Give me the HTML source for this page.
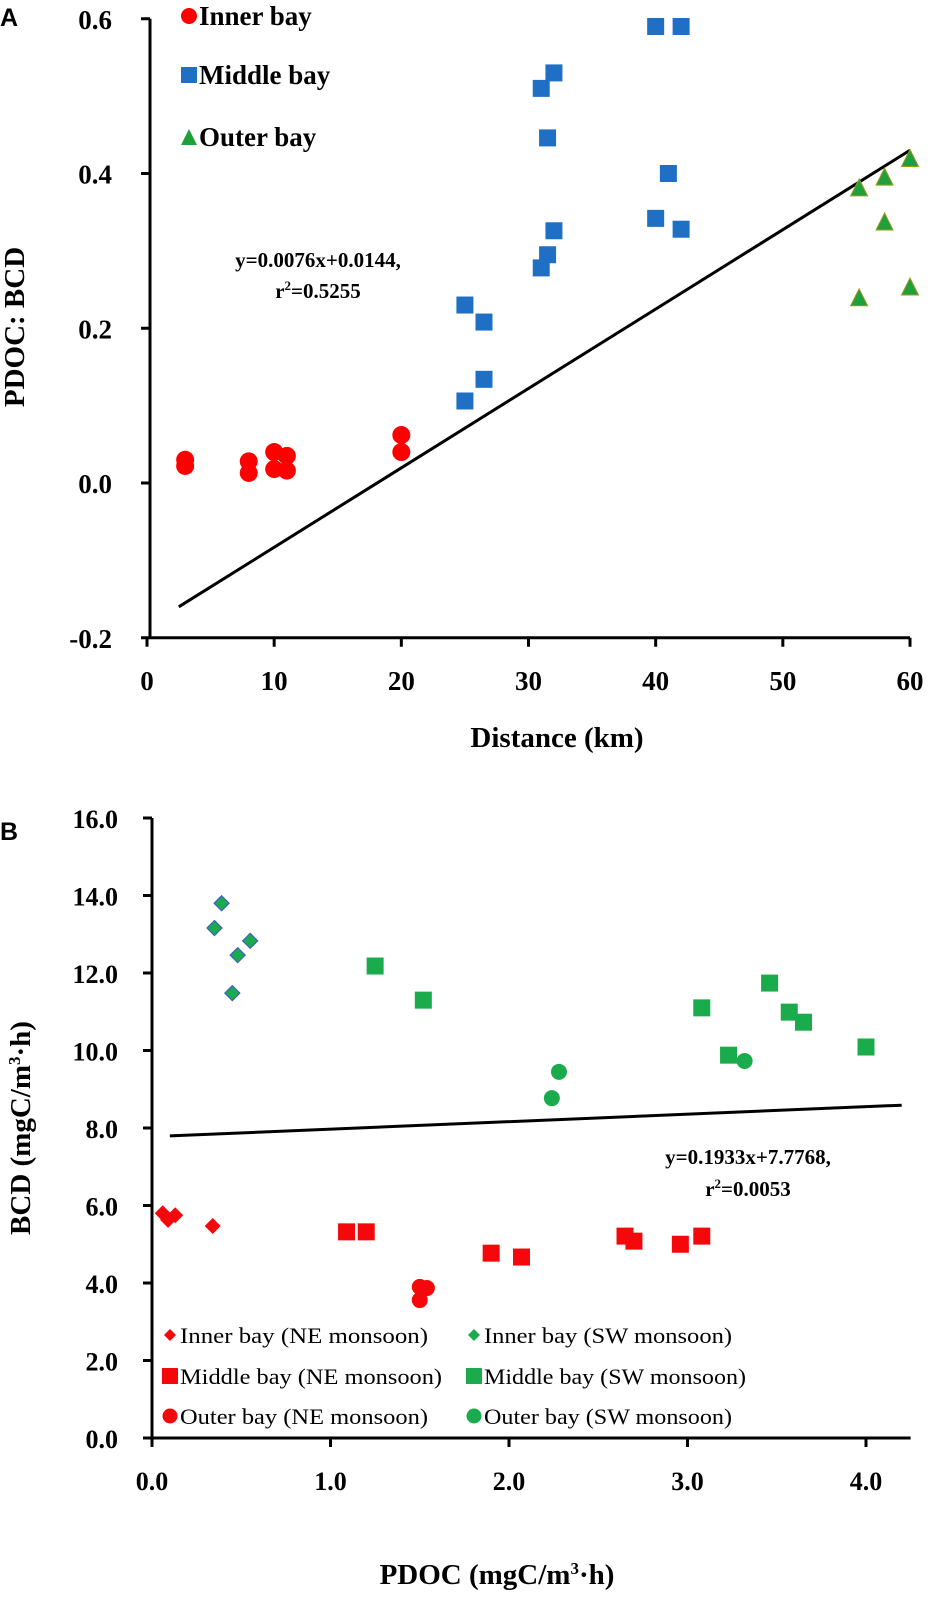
<!DOCTYPE html>
<html><head><meta charset="utf-8"><style>
body{margin:0;background:#fff}
svg{display:block;font-family:"Liberation Serif",serif}
</style></head><body>
<svg id="s" width="950" height="1604" viewBox="0 0 950 1604">
<text x="0" y="26" font-family="Liberation Sans,sans-serif" font-weight="bold" font-size="25">A</text>
<text x="0" y="840" font-family="Liberation Sans,sans-serif" font-weight="bold" font-size="25">B</text>
<g id="ga"></g>
<g id="gb"></g>
</svg>
<script>
// Panel A data
const aInnerX=[3,3,8,8,10,10,11,11,20,20];
const aInnerY=[0.030,0.022,0.028,0.013,0.040,0.018,0.035,0.016,0.062,0.040];
const aMidX=[25,26.5,26.5,25,31,32,31.5,32,31.5,31,40,42,41,40,42];
const aMidY=[0.230,0.208,0.134,0.106,0.510,0.530,0.446,0.326,0.295,0.278,0.590,0.590,0.400,0.342,0.328];
const aOutX=[56,58,60,58,56,60];
const aOutY=[0.382,0.396,0.420,0.338,0.240,0.254];
const aLineX=[2.5,60];
const aLineY=[-0.16,0.43];
const aXTicks=[0,10,20,30,40,50,60];
const aYTicks=[-0.2,0.0,0.2,0.4,0.6];
// Panel B data
const bInNEX=[0.06,0.09,0.13,0.34];
const bInNEY=[5.80,5.63,5.75,5.47];
const bInSWX=[0.35,0.39,0.48,0.55,0.45];
const bInSWY=[13.16,13.80,12.46,12.83,11.48];
const bMidNEX=[1.09,1.20,1.90,2.07,2.65,2.70,2.96,3.08];
const bMidNEY=[5.32,5.32,4.77,4.67,5.21,5.08,5.00,5.21];
const bOutNEX=[1.50,1.50,1.54];
const bOutNEY=[3.56,3.90,3.87];
const bMidSWX=[1.25,1.52,3.08,3.46,3.57,3.65,3.23,4.00];
const bMidSWY=[12.18,11.30,11.10,11.74,10.99,10.73,9.88,10.09];
const bOutSWX=[2.24,2.28,3.32];
const bOutSWY=[8.77,9.45,9.73];
const bSlope=0.1933, bIntercept=7.7768;
const bLineX=[0.1,4.2];
const bXTicks=[0,1,2,3,4];
const bYTicks=[0,2,4,6,8,10,12,14,16];

const NS="http://www.w3.org/2000/svg";
function mk(p,tag,at,txt){const e=document.createElementNS(NS,tag);for(const k in at)e.setAttribute(k,at[k]);if(txt!==undefined)e.textContent=txt;p.appendChild(e);return e;}
function marker(g,shape,cx,cy,sz,fill,stroke){
 let e;
 if(shape==='circle')e=mk(g,'circle',{cx:cx,cy:cy,r:sz/2,fill:fill});
 else if(shape==='square')e=mk(g,'rect',{x:cx-sz/2,y:cy-sz/2,width:sz,height:sz,fill:fill});
 else if(shape==='tri')e=mk(g,'polygon',{points:`${cx},${cy-sz/2} ${cx+sz/2},${cy+sz/2} ${cx-sz/2},${cy+sz/2}`,fill:fill,stroke:stroke||'none','stroke-width':1});
 else e=mk(g,'polygon',{points:`${cx},${cy-sz/2} ${cx+sz/2},${cy} ${cx},${cy+sz/2} ${cx-sz/2},${cy}`,fill:fill,stroke:stroke||'none','stroke-width':1.2});
 return e;
}
// ---- Panel A
const ga=document.getElementById('ga');
const ax=v=>147+(v-0)*(910-147)/60;
const ay=v=>483-v*773.75;
let e=mk(ga,'line',{x1:150,y1:ay(0.6),x2:150,y2:ay(-0.2),stroke:'#000','stroke-width':3});

e=mk(ga,'line',{x1:150,y1:ay(-0.2),x2:ax(60),y2:ay(-0.2),stroke:'#000','stroke-width':3});

aYTicks.forEach(v=>{mk(ga,'line',{x1:141,y1:ay(v),x2:150,y2:ay(v),stroke:'#000','stroke-width':3});
 const t=mk(ga,'text',{x:112,y:ay(v)+10,'text-anchor':'end','font-size':27,'font-weight':'bold'},v.toFixed(1));
 });
aXTicks.forEach(v=>{mk(ga,'line',{x1:ax(v),y1:ay(-0.2),x2:ax(v),y2:ay(-0.2)+9,stroke:'#000','stroke-width':3});
 const t=mk(ga,'text',{x:ax(v),y:690,'text-anchor':'middle','font-size':27,'font-weight':'bold'},String(v));
 });
e=mk(ga,'text',{x:557,y:747,'text-anchor':'middle','font-size':29,'font-weight':'bold'},'Distance (km)');

e=mk(ga,'text',{x:0,y:0,'text-anchor':'middle','font-size':29,'font-weight':'bold',transform:'translate(24,327) rotate(-90)'},'PDOC: BCD');

e=mk(ga,'line',{x1:ax(aLineX[0]),y1:ay(aLineY[0]),x2:ax(aLineX[1]),y2:ay(aLineY[1]),stroke:'#000','stroke-width':3});

e=mk(ga,'text',{x:318,y:267,'text-anchor':'middle','font-size':21,'font-weight':'bold'},'y=0.0076x+0.0144,');

e=mk(ga,'text',{x:318,y:298,'text-anchor':'middle','font-size':21,'font-weight':'bold'});
e.innerHTML='r<tspan dy="-8" font-size="13">2</tspan><tspan dy="8">=0.5255</tspan>';

aInnerX.forEach((x,i)=>{const m=marker(ga,'circle',ax(x),ay(aInnerY[i]),18,'#f00');});
aMidX.forEach((x,i)=>{const m=marker(ga,'square',ax(x),ay(aMidY[i]),17,'#1f6fc5');});
aOutX.forEach((x,i)=>{const m=marker(ga,'tri',ax(x),ay(aOutY[i]),17,'#1fa03a','#9a9a20');});
[['circle','#f00','Inner bay',16],['square','#1f6fc5','Middle bay',75],['tri','#1fa03a','Outer bay',137]].forEach(([s,c,l,y])=>{
 const g=mk(ga,'g',{});
 marker(g,s,189,y,16,c);mk(g,'text',{x:199,y:y+9,'font-size':27,'font-weight':'bold'},l);});
// ---- Panel B
const gb=document.getElementById('gb');
const bx=v=>152+v*178.5;
const by=v=>1438-v*38.75;
e=mk(gb,'line',{x1:152,y1:by(16),x2:152,y2:by(0),stroke:'#000','stroke-width':3});

e=mk(gb,'line',{x1:152,y1:by(0),x2:bx(4.25),y2:by(0),stroke:'#000','stroke-width':3});

bYTicks.forEach(v=>{mk(gb,'line',{x1:143,y1:by(v),x2:152,y2:by(v),stroke:'#000','stroke-width':3});
 const t=mk(gb,'text',{x:118,y:by(v)+10,'text-anchor':'end','font-size':26,'font-weight':'bold'},v.toFixed(1));
 });
bXTicks.forEach(v=>{mk(gb,'line',{x1:bx(v),y1:by(0),x2:bx(v),y2:by(0)+9,stroke:'#000','stroke-width':3});
 const t=mk(gb,'text',{x:bx(v),y:1490,'text-anchor':'middle','font-size':26,'font-weight':'bold'},v.toFixed(1));
 });
e=mk(gb,'text',{x:497,y:1584,'text-anchor':'middle','font-size':29,'font-weight':'bold'});
e.innerHTML='PDOC (mgC/m<tspan dy="-10" font-size="17">3</tspan><tspan dy="10">·h)</tspan>';

e=mk(gb,'text',{x:0,y:0,'text-anchor':'middle','font-size':29,'font-weight':'bold',transform:'translate(30,1128) rotate(-90)'});
e.innerHTML='BCD (mgC/m<tspan dy="-10" font-size="17">3</tspan><tspan dy="10">·h)</tspan>';

e=mk(gb,'line',{x1:bx(bLineX[0]),y1:by(bSlope*bLineX[0]+bIntercept),x2:bx(bLineX[1]),y2:by(bSlope*bLineX[1]+bIntercept),stroke:'#000','stroke-width':3});

e=mk(gb,'text',{x:748,y:1164,'text-anchor':'middle','font-size':21,'font-weight':'bold'},'y=0.1933x+7.7768,');

e=mk(gb,'text',{x:748,y:1196,'text-anchor':'middle','font-size':21,'font-weight':'bold'});
e.innerHTML='r<tspan dy="-8" font-size="13">2</tspan><tspan dy="8">=0.0053</tspan>';

const R='#f5080c',G='#1aab4c';
bInNEX.forEach((x,i)=>{const m=marker(gb,'dia',bx(x),by(bInNEY[i]),16,R);});
bInSWX.forEach((x,i)=>{const m=marker(gb,'dia',bx(x),by(bInSWY[i]),15,G,'#3f5fc0');});
bMidNEX.forEach((x,i)=>{const m=marker(gb,'square',bx(x),by(bMidNEY[i]),17,R);});
bOutNEX.forEach((x,i)=>{const m=marker(gb,'circle',bx(x),by(bOutNEY[i]),16,R);});
bMidSWX.forEach((x,i)=>{const m=marker(gb,'square',bx(x),by(bMidSWY[i]),17,G);});
bOutSWX.forEach((x,i)=>{const m=marker(gb,'circle',bx(x),by(bOutSWY[i]),16,G);});
[['dia',R,'Inner bay (NE monsoon)',170,1335,12],['dia',G,'Inner bay (SW monsoon)',474,1335,12],
 ['square',R,'Middle bay (NE monsoon)',170,1376,16],['square',G,'Middle bay (SW monsoon)',474,1376,16],
 ['circle',R,'Outer bay (NE monsoon)',170,1416,15],['circle',G,'Outer bay (SW monsoon)',474,1416,15]].forEach(([s,c,l,x,y,sz])=>{
 const g=mk(gb,'g',{});
 marker(g,s,x,y,sz,c);mk(g,'text',{x:x+10,y:y+8,'font-size':22,textLength:l.length>22?262:248,lengthAdjust:'spacingAndGlyphs'},l);});
</script>
</body></html>
